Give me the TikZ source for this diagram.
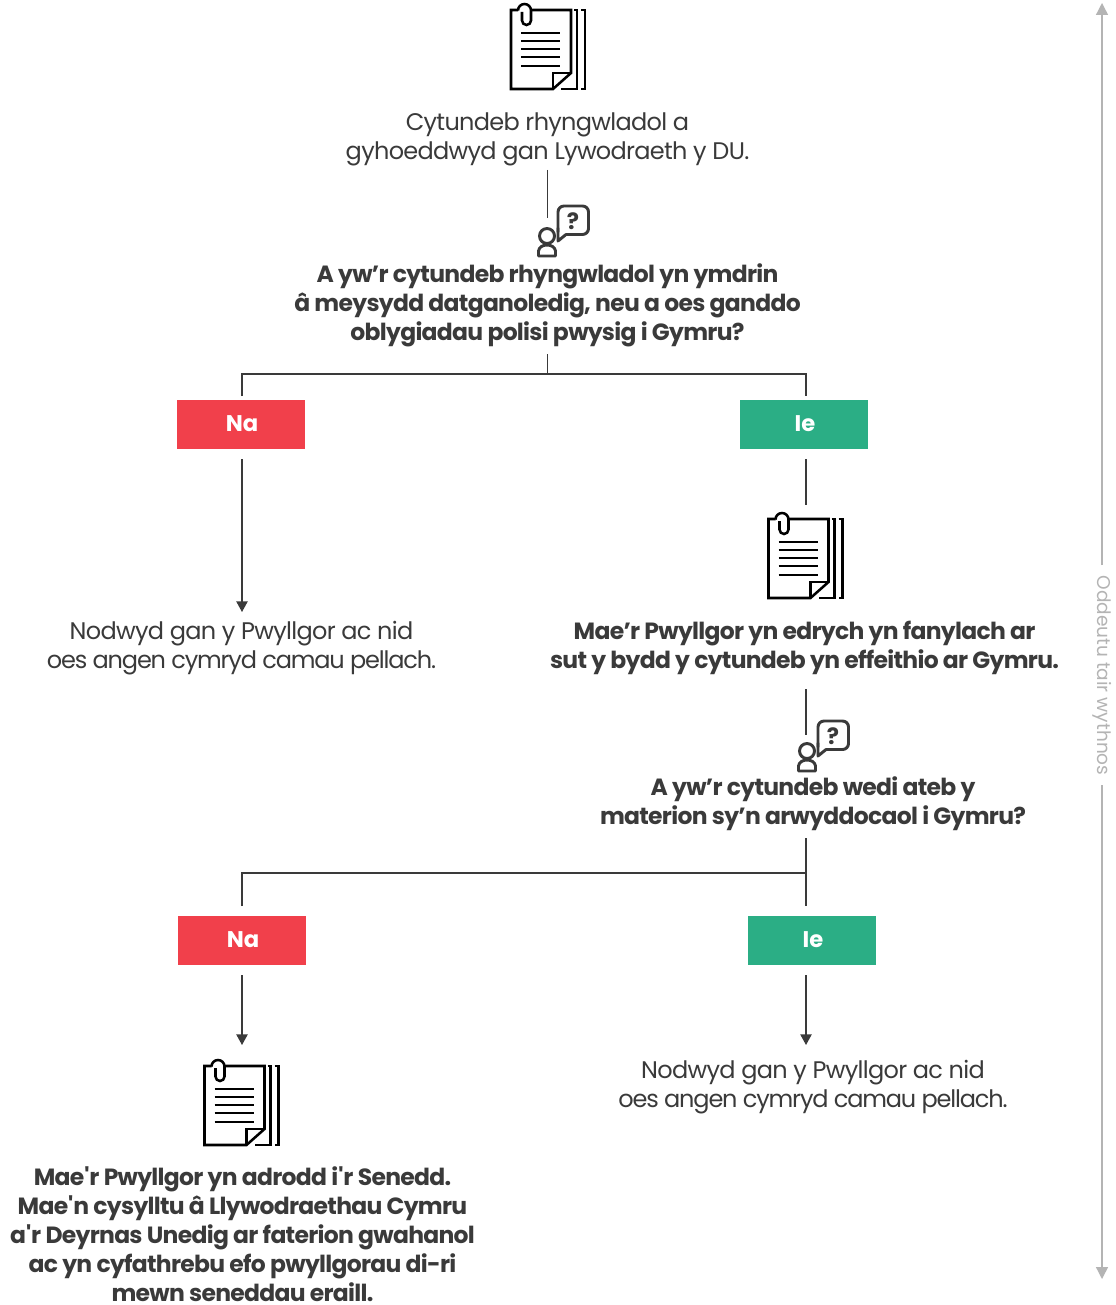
\documentclass[tikz,border=0pt]{standalone}
\usepackage{fontspec}
\setmainfont{Poppins}
\usetikzlibrary{arrows.meta}
\definecolor{ink}{HTML}{3A3A3A}
\definecolor{redbox}{HTML}{F1404B}
\definecolor{greenbox}{HTML}{2BAE85}
\definecolor{sidegray}{HTML}{B4B4B4}
\newfontfamily\plainface[LetterSpace=-2.9]{Poppins}
\newfontfamily\tightface[LetterSpace=-4.8]{Poppins}
\newfontfamily\strongface[LetterSpace=-3.0,UprightFont=* Bold]{Poppins}
\newcommand{\answertext}[1]{\hspace*{1.5pt}\raisebox{1pt}{#1}}
\tikzset{
  plain/.style={align=center,text=ink,inner sep=0pt,font=\plainface\fontsize{18}{21.75}\selectfont},
  strong/.style={align=center,text=ink,inner sep=0pt,font=\strongface\fontsize{17.6}{21.75}\selectfont},
  answer/.style={minimum width=96pt,minimum height=37pt,inner sep=0pt,text=white,font=\fontsize{17}{20}\selectfont\bfseries},
  link/.style={draw=ink,line width=1pt},
  arrowlink/.style={link,-{Triangle[length=8pt,width=8.5pt]}},
  sidelink/.style={draw=sidegray,line width=1pt,-{Triangle[length=9pt,width=9pt]}},
  docline/.style={draw=black,line width=1.9pt,line join=miter},
  docrule/.style={draw=black,line width=1.5pt},
  qline/.style={draw=ink,line width=2.2pt,line join=round,line cap=round},
  docicon/.pic={
    \draw[docline] (518,10) -- (511,10) -- (511,89) -- (553,89) -- (571,73) -- (571,10) -- (531,10);
    \draw[docline] (553,89) -- (553,73) -- (571,73);
    \draw[docline] (574,10) -- (577,10) -- (577,89) -- (561,89);
    \draw[docline] (581,10) -- (585,10) -- (585,89) -- (581,89);
    \draw[docline] (518,10.5) arc[start angle=180,end angle=360,radius=6.5] -- (531,20.5) arc[start angle=0,end angle=180,radius=4.5] -- (522,12);
    \foreach \yy in {33,41,49,57,66} \draw[docrule] (521,\yy) -- (560,\yy);
  },
  qicon/.pic={
    \draw[qline,rounded corners=4.5pt] (558,232) -- (558,206) -- (588.5,206) -- (588.5,234.5) -- (566,234.5);
    \draw[qline] (566,234.5) -- (558,241) -- (558,228);
    \draw[qline] (547,236) circle[radius=7.5];
    \draw[qline] (538.5,256) -- (538.5,251) .. controls (539,247) and (543,245) .. (547,245) .. controls (551,245) and (555,247) .. (555.5,251) -- (555.5,256) -- cycle;
    \node[inner sep=0pt,text=ink,font=\fontsize{17}{17}\selectfont\bfseries] (qmark) at (573,221) {?};
  },
}
\begin{document}
\begin{tikzpicture}[x=0.75pt,y=-0.75pt]
\useasboundingbox (0,0) rectangle (1116,1305);
\fill[white] (0,0) rectangle (1116,1305);

\pic at (0,0) {docicon};
\pic at (257.5,509) {docicon};
\pic at (-306.5,1056) {docicon};
\pic at (0,0) {qicon};
\pic at (260,515) {qicon};

\node[plain] (intro) at (547.5,139) {Cytundeb rhyngwladol a\\gyhoeddwyd gan Lywodraeth y DU.};
\node[strong] (q1) at (547.5,305) {A yw’r cytundeb rhyngwladol yn ymdrin\\â meysydd datganoledig, neu a oes ganddo\\oblygiadau polisi pwysig i Gymru?};
\node[answer,fill=redbox] (na1) at (241,424.5) {\answertext{Na}};
\node[answer,fill=greenbox] (ie1) at (804,424.5) {\answertext{Ie}};
\node[plain] (noact1) at (241.5,648.5) {Nodwyd gan y Pwyllgor ac nid\\{\tightface\fontsize{18}{21.75}\selectfont oes angen cymryd camau pellach.}};
\node[strong] (look) at (804.5,647.5) {Mae’r Pwyllgor yn edrych yn fanylach ar\\sut y bydd y cytundeb yn effeithio ar Gymru.};
\node[strong] (q2) at (813,804) {A yw’r cytundeb wedi ateb y\\materion sy’n arwyddocaol i Gymru?};
\node[answer,fill=redbox] (na2) at (242,940.5) {\answertext{Na}};
\node[answer,fill=greenbox] (ie2) at (812,940.5) {\answertext{Ie}};
\node[plain] (noact2) at (813,1087) {Nodwyd gan y Pwyllgor ac nid\\{\tightface\fontsize{18}{21.75}\selectfont oes angen cymryd camau pellach.}};
\node[strong] (report) at (242.5,1234) {Mae\textquotesingle r Pwyllgor yn adrodd i\textquotesingle r Senedd.\\Mae\textquotesingle n cysylltu â Llywodraethau Cymru\\a\textquotesingle r Deyrnas Unedig ar faterion gwahanol\\ac yn cyfathrebu efo pwyllgorau di-ri\\mewn seneddau eraill.};
\node[rotate=-90,inner sep=0pt,text=sidegray,font=\fontsize{13.9}{16}\selectfont] (side) at (1102,675.5) {Oddeutu tair wythnos};

\coordinate (a1s) at (547.5,170);
\coordinate (a1e) at (547.5,218);
\coordinate (b1s) at (547.5,354);
\coordinate (b1j) at (547.5,374);
\coordinate (bl) at (242,374);
\coordinate (br) at (806,374);
\coordinate (blb) at (242,396);
\coordinate (brb) at (806,396);
\coordinate (c1s) at (242,459);
\coordinate (c1e) at (242,612);
\coordinate (d1s) at (806,459);
\coordinate (d1e) at (806,505);
\coordinate (e1s) at (806,689);
\coordinate (e1e) at (806,735);
\coordinate (f1s) at (806,838);
\coordinate (f1j) at (806,873);
\coordinate (f1e) at (806,906);
\coordinate (fl) at (242,873);
\coordinate (flb) at (242,906);
\coordinate (g1s) at (242,975);
\coordinate (g1e) at (242,1045);
\coordinate (h1s) at (806,975);
\coordinate (h1e) at (806,1045);
\coordinate (s1) at (1102,565);
\coordinate (s1e) at (1102,3);
\coordinate (s2) at (1102,785);
\coordinate (s2e) at (1102,1279);

\draw[link] (a1s) -- (a1e);
\draw[link] (b1s) -- (b1j);
\draw[link] (blb) -- (bl) -- (br) -- (brb);
\draw[arrowlink] (c1s) -- (c1e);
\draw[link] (d1s) -- (d1e);
\draw[link] (e1s) -- (e1e);
\draw[link] (f1s) -- (f1e);
\draw[link] (flb) -- (fl) -- (f1j);
\draw[arrowlink] (g1s) -- (g1e);
\draw[arrowlink] (h1s) -- (h1e);
\draw[sidelink] (s1) -- (s1e);
\draw[sidelink] (s2) -- (s2e);
\end{tikzpicture}
\end{document}
